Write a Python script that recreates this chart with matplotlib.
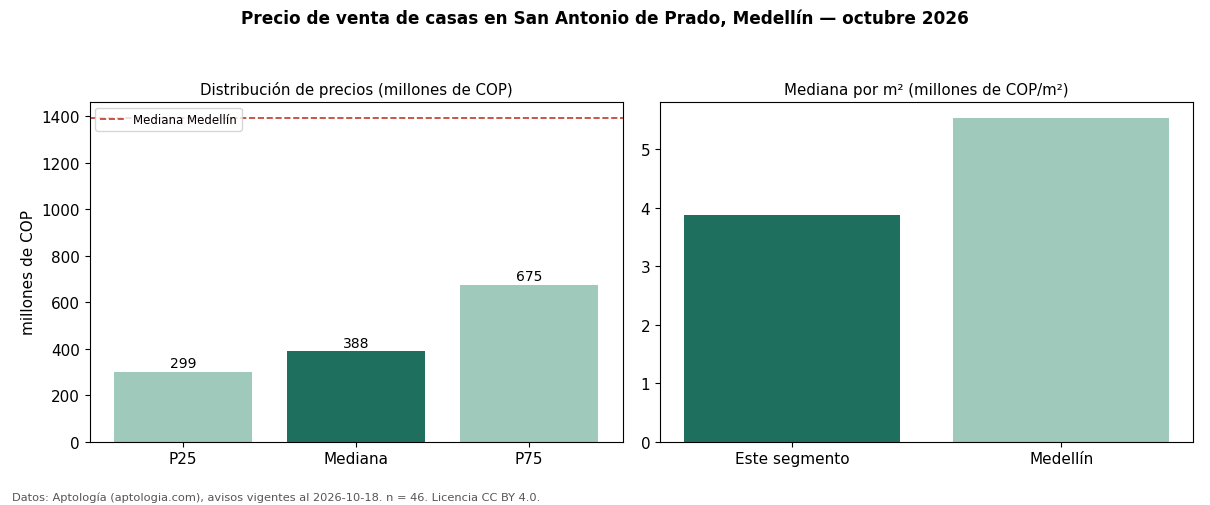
import numpy as np
import matplotlib
matplotlib.use('Agg')
import matplotlib.pyplot as plt

# Datos
cuantiles = ['P25', 'Mediana', 'P75']
precios = [299, 388, 675]
mediana_medellin = 1390

grupos_m2 = ['Este segmento', 'Medellín']
precio_m2 = [3.87, 5.53]

oscuro = '#1f6f5f'
claro = '#9ec9bb'

fig, (ax1, ax2) = plt.subplots(1, 2, figsize=(12.1, 5.06), dpi=100)
fig.subplots_adjust(left=0.074, right=0.986, top=0.796, bottom=0.125, wspace=0.07)

colores1 = [claro, oscuro, claro]
barras = ax1.bar(cuantiles, precios, color=colores1, width=0.8)
for b, v in zip(barras, precios):
    ax1.text(b.get_x() + b.get_width() / 2, v + 8, f'{v}', ha='center', va='bottom', fontsize=10)
ax1.axhline(mediana_medellin, color='#c0392b', linestyle='--', linewidth=1.2, label='Mediana Medellín')
ax1.set_ylim(0, mediana_medellin * 1.05)
ax1.set_ylabel('millones de COP', fontsize=11)
ax1.set_title('Distribución de precios (millones de COP)', fontsize=10.8)
ax1.legend(loc='upper left', fontsize=8.5)

ax2.bar(grupos_m2, precio_m2, color=[oscuro, claro], width=0.8)
ax2.set_ylim(0, max(precio_m2) * 1.05)
ax2.set_title('Mediana por m² (millones de COP/m²)', fontsize=10.8)

for ax in (ax1, ax2):
    ax.tick_params(labelsize=11)

fig.suptitle('Precio de venta de casas en San Antonio de Prado, Medellín — octubre 2026',
             fontsize=12.2, fontweight='bold', y=0.98)
fig.text(0.01, 0.01, 'Datos: Aptología (aptologia.com), avisos vigentes al 2026-10-18. n = 46. Licencia CC BY 4.0.',
         fontsize=8.2, color='#555555')

plt.savefig('out.png')
